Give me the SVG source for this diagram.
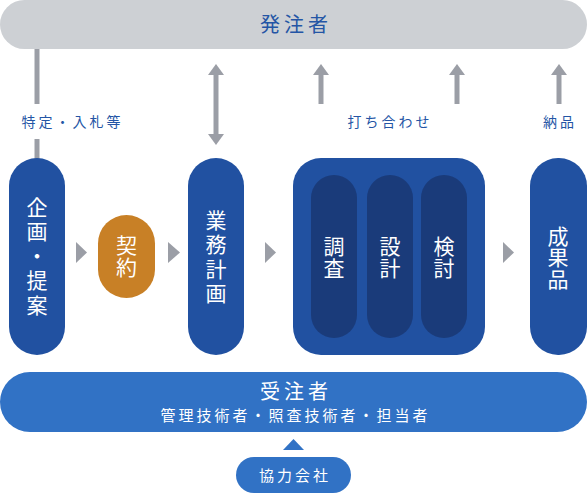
<svg xmlns="http://www.w3.org/2000/svg" width="587" height="494" viewBox="0 0 587 494">
<style>
.t{font-family:"Noto Sans CJK JP","Noto Sans",sans-serif;font-weight:400;text-anchor:middle}
.w{fill:#ffffff}
.b{fill:#2455a5}
.v{font-size:21px}
.pill{fill:#2151a1}
.inner{fill:#1a3b7a}
.gl{stroke:#9b9ea6;stroke-width:5;fill:none}
.gh{fill:#9b9ea6}
</style>
<rect width="587" height="494" fill="#ffffff"/>
<g id="orderer">
<rect x="0" y="0" width="587" height="49" rx="24.5" fill="#cdd0d4"/>
<text class="t b" x="296" y="32" font-size="20" font-weight="500" letter-spacing="4">発注者</text>
</g>
<g id="connectors">
<line class="gl" x1="37" y1="49" x2="37" y2="104"/>
<line class="gl" x1="37" y1="139" x2="37" y2="160"/>
<line class="gl" x1="216" y1="72" x2="216" y2="137"/>
<polygon class="gh" points="216,64 224,75 208,75"/>
<polygon class="gh" points="216,145 224,134 208,134"/>
<line class="gl" x1="321" y1="72" x2="321" y2="104"/>
<polygon class="gh" points="321,64 329,75 313,75"/>
<line class="gl" x1="457" y1="72" x2="457" y2="104"/>
<polygon class="gh" points="457,64 465,75 449,75"/>
<line class="gl" x1="559" y1="72" x2="559" y2="104"/>
<polygon class="gh" points="559,64 567,75 551,75"/>
<polygon class="gh" points="76,242 87,252.5 76,263"/>
<polygon class="gh" points="168,242 180,252.5 168,263"/>
<polygon class="gh" points="265,242 276,252.5 265,263"/>
<polygon class="gh" points="503,242 514,252.5 503,263"/>
<polygon points="293.5,439 304,450 283,450" fill="#3172c5"/>
</g>
<g id="labels">
<text class="t b" x="72.5" y="127" font-size="14" letter-spacing="3">特定・入札等</text>
<text class="t b" x="390" y="127" font-size="14" letter-spacing="3">打ち合わせ</text>
<text class="t b" x="560" y="127" font-size="14" letter-spacing="3">納品</text>
</g>
<g id="planning">
<rect class="pill" x="9" y="158" width="56" height="197" rx="28"/>
<text class="t w v" x="37" y="214.5">企</text>
<text class="t w v" x="37" y="239">画</text>
<text class="t w v" x="37" y="263.5">・</text>
<text class="t w v" x="37" y="288">提</text>
<text class="t w v" x="37" y="312.5">案</text>
</g>
<g id="contract">
<rect x="98" y="215" width="57" height="83" rx="28.5" fill="#c88026"/>
<text class="t w v" x="126.5" y="252.5">契</text>
<text class="t w v" x="126.5" y="275">約</text>
</g>
<g id="business-plan">
<rect class="pill" x="188" y="158" width="56" height="197" rx="28"/>
<text class="t w v" x="216" y="227.5">業</text>
<text class="t w v" x="216" y="251.5">務</text>
<text class="t w v" x="216" y="276.5">計</text>
<text class="t w v" x="216" y="300.5">画</text>
</g>
<g id="work">
<rect class="pill" x="293" y="158" width="192" height="197" rx="28"/>
<g id="survey">
<rect class="inner" x="311" y="175" width="46" height="163" rx="23"/>
<text class="t w v" x="334" y="253.5">調</text>
<text class="t w v" x="334" y="275.5">査</text>
</g>
<g id="design">
<rect class="inner" x="367" y="175" width="46" height="163" rx="23"/>
<text class="t w v" x="390" y="253.5">設</text>
<text class="t w v" x="390" y="275.5">計</text>
</g>
<g id="review">
<rect class="inner" x="421" y="175" width="46" height="163" rx="23"/>
<text class="t w v" x="444" y="253.5">検</text>
<text class="t w v" x="444" y="275.5">討</text>
</g>
</g>
<g id="deliverable">
<rect class="pill" x="530" y="158" width="57" height="197" rx="28"/>
<text class="t w v" x="558" y="243.5">成</text>
<text class="t w v" x="558" y="265">果</text>
<text class="t w v" x="558" y="286.5">品</text>
</g>
<g id="contractor">
<rect x="0" y="372" width="587" height="60" rx="30" fill="#3172c5"/>
<text class="t w" x="296" y="399" font-size="20" font-weight="500" letter-spacing="4">受注者</text>
<text class="t w" x="295.5" y="421" font-size="15" letter-spacing="3">管理技術者・照査技術者・担当者</text>
</g>
<g id="partner">
<rect x="236" y="457" width="115" height="36" rx="18" fill="#3172c5"/>
<text class="t w" x="295" y="481" font-size="15" letter-spacing="3">協力会社</text>
</g>
</svg>
